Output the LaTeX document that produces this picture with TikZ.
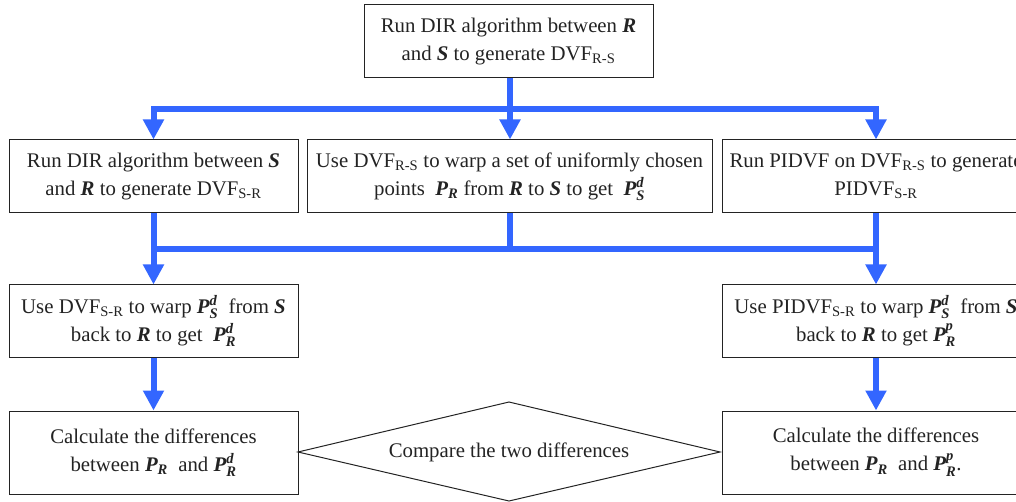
\documentclass[tikz,border=0pt]{standalone}
\usepackage{amsmath}
\usepackage{fontspec}
\setmainfont{Liberation Serif}
\usetikzlibrary{arrows.meta}
\definecolor{flowblue}{RGB}{51,102,255}
\definecolor{inkgray}{RGB}{35,35,35}
\newcommand{\bi}[1]{\text{\bfseries\itshape #1}}
\newcommand{\Pv}[2]{$\bi{P}_{\bi{#1}}^{\bi{#2}}$}
\newcommand{\Ps}[1]{$\bi{P}_{\bi{#1}}$}
\newcommand{\Bi}[1]{\textbf{\textit{#1}}}
\begin{document}
\begin{tikzpicture}[x=1pt,y=-1pt,
  txt/.style={text=inkgray,font=\fontsize{20.8}{28}\selectfont,align=center},
  box/.style={txt,draw=inkgray,line width=1pt,inner sep=0pt},
  flow/.style={draw=flowblue,line width=6pt},
  arr/.style={flow,-{Triangle[width=20pt,length=20pt]}}]
\useasboundingbox (0,0) rectangle (1016,502);
\clip (0,0) rectangle (1016,502);
\node[box,minimum width=289,minimum height=73] (top) at (508.5,41.5)
  {Run DIR algorithm between \Bi{R}\\and \Bi{S} to generate DVF\textsubscript{R-S}};
\node[box,minimum width=289,minimum height=73] (b2) at (153.5,176.5)
  {Run DIR algorithm between \Bi{S}\\and \Bi{R} to generate DVF\textsubscript{S-R}};
\node[box,minimum width=405,minimum height=73] (b3) at (509.5,176.5)
  {Use DVF\textsubscript{R-S} to warp a set of uniformly chosen\\points\ \ \Ps{R} from \Bi{R} to \Bi{S} to get\ \ \Pv{S}{d}};
\node[box,minimum width=308,minimum height=73] (b4) at (876,176.5)
  {Run PIDVF on DVF\textsubscript{R-S} to generate\\PIDVF\textsubscript{S-R}};
\node[box,minimum width=289,minimum height=72] (b5) at (153.5,321)
  {Use DVF\textsubscript{S-R} to\ warp \Pv{S}{d}\ \ from \Bi{S}\\back to \Bi{R} to get\ \ \Pv{R}{d}};
\node[box,minimum width=308,minimum height=72] (b6) at (876,321)
  {Use PIDVF\textsubscript{S-R} to\ warp \Pv{S}{d}\ \ from \Bi{S}\\back to \Bi{R} to get \Pv{R}{p}};
\node[box,minimum width=289,minimum height=83] (b7) at (153.5,452.5)
  {Calculate the differences\\between \Ps{R}\ \ and \Pv{R}{d}};
\node[box,minimum width=308,minimum height=83] (b9) at (876,452.5)
  {Calculate the differences\\between \Ps{R}\ \ and \Pv{R}{p}.};
\node[txt] (cmp) at (509,452) {Compare the two differences};
\coordinate (dl) at (298,452);
\coordinate (dt) at (509,402);
\coordinate (dr) at (720,452);
\coordinate (db) at (509,501);
\draw[draw=inkgray,line width=1pt] (dl) -- (dt) -- (dr) -- (db) -- cycle;
\coordinate (j1) at (510,109);
\coordinate (j2) at (510,249);
\draw[flow] (top.south -| j1) -- (j1);
\draw[arr] (j1) -- (b3.north -| j1);
\draw[arr] (j1) -| (b2.north);
\draw[arr] (j1) -| (b4.north);
\draw[flow] (b3.south -| j2) -- (j2);
\draw[flow] (b2.south |- j2) -- (b4.south |- j2);
\draw[arr] (b2.south) -- (b5.north);
\draw[arr] (b4.south) -- (b6.north);
\draw[arr] (b5.south) -- (b7.north);
\draw[arr] (b6.south) -- (b9.north);
\end{tikzpicture}
\end{document}
